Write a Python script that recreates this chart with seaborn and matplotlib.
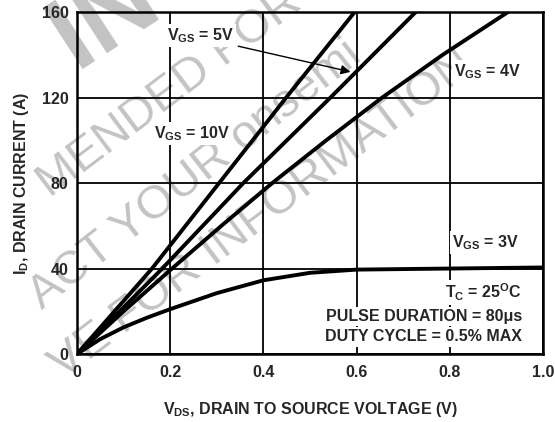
import matplotlib
matplotlib.use("Agg")
import matplotlib.pyplot as plt
import pandas as pd
import seaborn as sns

# Drain current levels (A) and the V_DS (V) at which each curve crosses them
id_levels = [0, 40, 80, 120, 160]
vds_10v = [0, 0.161, 0.305, 0.449, 0.596]
vds_5v = [0, 0.183, 0.357, 0.544, 0.727]

id_4v = [0, 20, 40, 60, 80, 100, 120, 140, 160]
vds_4v = [0, 0.1, 0.204, 0.31, 0.419, 0.535, 0.655, 0.785, 0.925]

# V_GS = 3V curve (saturates near 40 A)
vds_3v = [0, 0.05, 0.1, 0.15, 0.2, 0.3, 0.4, 0.5, 0.6, 0.8, 1.0]
id_3v = [0, 7, 12.5, 17, 21, 28.5, 34.5, 38, 39.5, 40, 40.5]

x_ticks = [0, 0.2, 0.4, 0.6, 0.8, 1.0]
x_tick_labels = ["0", "0.2", "0.4", "0.6", "0.8", "1.0"]
y_ticks = [0, 40, 80, 120, 160]

# fragments of the faint diagonal watermark that are visible in the chart
watermark_lines = ["MENDED FOR", "ACT YOUR onsemi", "VE FOR INFORMATION"]

sns.set_style("white")
plt.rcParams["font.family"] = ["Liberation Sans", "DejaVu Sans"]
plt.rcParams["font.weight"] = "bold"
plt.rcParams["axes.labelweight"] = "bold"
plt.rcParams["mathtext.fontset"] = "custom"
plt.rcParams["mathtext.rm"] = "Liberation Sans:bold"
plt.rcParams["mathtext.bf"] = "Liberation Sans:bold"
plt.rcParams["mathtext.it"] = "Liberation Sans:bold"

curves = pd.concat(
    [
        pd.DataFrame({"vds": vds_10v, "id": id_levels, "vgs": "10V"}),
        pd.DataFrame({"vds": vds_5v, "id": id_levels, "vgs": "5V"}),
        pd.DataFrame({"vds": vds_4v, "id": id_4v, "vgs": "4V"}),
        pd.DataFrame({"vds": vds_3v, "id": id_3v, "vgs": "3V"}),
    ],
    ignore_index=True,
)

fs = 11.5
fig = plt.figure(figsize=(5.55, 4.22), dpi=100)
ax = fig.add_axes([0.1387, 0.161, 0.8397, 0.8106])

# faint watermark behind the grid
wm_color = "#c3c3c3"
wm = dict(transform=fig.transFigure, ha="center", va="center",
          fontweight="normal", color=wm_color, zorder=0.5, clip_on=False)
ax.text(0.306, 0.78, watermark_lines[0], rotation=37, fontsize=34, **wm)
ax.text(0.351, 0.585, watermark_lines[1], rotation=38, fontsize=34, **wm)
ax.text(0.472, 0.49, watermark_lines[2], rotation=37, fontsize=34, **wm)
ax.text(0.19, 0.96, "IN", rotation=33, fontsize=76, fontweight="bold",
        transform=fig.transFigure, ha="center", va="center",
        color=wm_color, zorder=0.5, clip_on=False)

for vgs, grp in curves.groupby("vgs", sort=False):
    sns.lineplot(data=grp, x="vds", y="id", ax=ax, color="black",
                 linewidth=2.8, sort=False, legend=False, zorder=3)

ax.set_xlim(0, 1.0)
ax.set_ylim(0, 160)
ax.set_xticks(x_ticks)
ax.set_xticklabels(x_tick_labels, fontweight="bold")
ax.set_yticks(y_ticks)
ax.set_yticklabels([str(v) for v in y_ticks], fontweight="bold")
ax.grid(True, color="black", linewidth=1.3)
ax.set_axisbelow(True)
for s in ax.spines.values():
    s.set_color("black")
    s.set_linewidth(1.8)
ax.tick_params(length=0, labelsize=fs)
ax.tick_params(axis="x", pad=8)
ax.tick_params(axis="y", pad=6)

ax.set_xlabel("V$_{\\mathregular{DS}}$, DRAIN TO SOURCE VOLTAGE (V)",
              fontsize=fs, fontweight="bold", labelpad=14)
ax.set_ylabel("I$_{\\mathregular{D}}$, DRAIN CURRENT (A)", fontsize=fs,
              fontweight="bold", labelpad=8)

box = dict(facecolor="white", edgecolor="none", pad=1.5)
lbl = dict(fontsize=fs, ha="center", va="center", bbox=box, zorder=4)
ax.text(0.265, 149, "V$_{\\mathregular{GS}}$ = 5V", **lbl)
ax.text(0.247, 103, "V$_{\\mathregular{GS}}$ = 10V", **lbl)
ax.text(0.882, 132, "V$_{\\mathregular{GS}}$ = 4V", **lbl)
ax.text(0.877, 52, "V$_{\\mathregular{GS}}$ = 3V", **lbl)

ax.annotate("", xy=(0.587, 132), xytext=(0.346, 144),
            arrowprops=dict(arrowstyle="-|>", color="black", lw=1.0,
                            mutation_scale=14, shrinkA=0, shrinkB=0),
            zorder=4)

note = dict(fontsize=fs, ha="right", va="center", bbox=box, zorder=4)
ax.text(0.955, 28.7, "T$_{\\mathregular{C}}$ = 25$^{\\mathregular{O}}$C", **note)
ax.text(0.955, 17.6, "PULSE DURATION = 80\u03bcs", **note)
ax.text(0.955, 8.0, "DUTY CYCLE = 0.5% MAX", **note)

fig.savefig("out.png", dpi=100)
